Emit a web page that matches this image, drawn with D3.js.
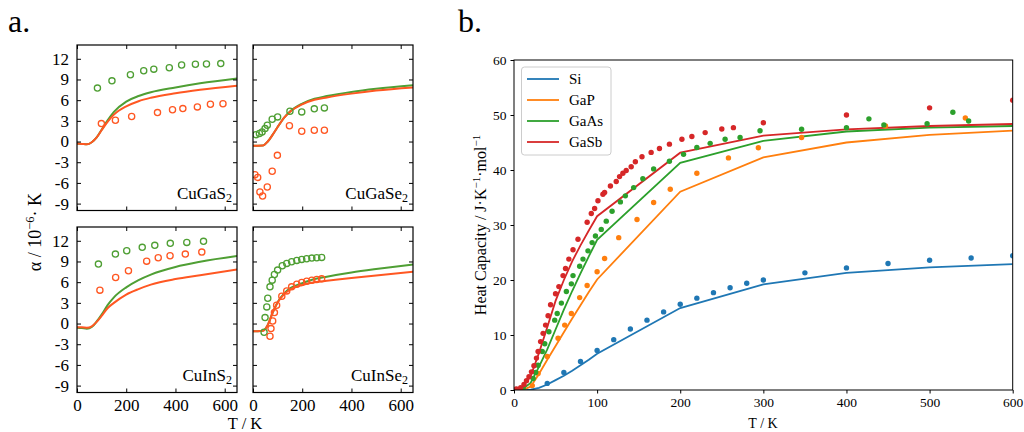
<!DOCTYPE html>
<html><head><meta charset="utf-8">
<script src="https://cdn.jsdelivr.net/npm/d3@7"></script>
<style>
body{margin:0;background:#fff}
svg{font-family:"Liberation Serif","DejaVu Serif",serif}
</style>
</head><body>
<svg id="chart" width="1024" height="432"></svg>
<script>
// ---------- Panel a data ----------
const aCompounds = ["CuGaS", "CuGaSe", "CuInS", "CuInSe"];
const aYTicks = [-9, -6, -3, 0, 3, 6, 9, 12];
const aXTicks = [0, 200, 400, 600];
const aLineT = [0, 20, 40, 60, 80, 100, 125, 150, 200, 250, 300, 400, 500, 650];

const cuGaS2LineGreen  = [-0.3,-0.35,-0.4,-0.1,0.6,1.7,3.1,4.3,5.8,6.6,7.15,7.85,8.45,9.15];
const cuGaS2LineOrange = [-0.3,-0.35,-0.4,-0.1,0.6,1.65,2.9,3.9,5.1,5.85,6.35,7.0,7.5,8.1];
const cuGaSe2LineGreen  = [-0.6,-0.6,-0.58,0.0,1.0,2.1,3.4,4.35,5.5,6.2,6.6,7.2,7.65,8.15];
const cuGaSe2LineOrange = [-0.6,-0.6,-0.58,0.0,1.0,2.1,3.4,4.3,5.4,6.05,6.4,6.95,7.4,7.85];
const cuInS2LineGreen  = [-0.6,-0.65,-0.75,-0.5,0.3,1.3,2.7,3.8,5.25,6.3,7.1,8.2,8.95,9.78];
const cuInS2LineOrange = [-0.55,-0.55,-0.6,-0.4,0.25,1.1,2.25,3.0,4.2,5.0,5.65,6.45,7.0,7.84];
const cuInSe2LineGreen  = [-1.1,-1.1,-1.05,-0.2,1.6,3.1,4.3,5.1,5.85,6.45,6.8,7.4,7.9,8.57];
const cuInSe2LineOrange = [-1.1,-1.1,-1.05,-0.2,1.6,3.05,4.2,4.9,5.6,6.0,6.2,6.6,6.95,7.5];

const cuGaS2GreenT = [83,142,217,271,312,375,425,481,526,584];
const cuGaS2GreenV = [7.75,8.8,9.68,10.26,10.5,10.7,11.1,11.2,11.24,11.3];
const cuGaS2OrangeT = [99,156,222,327,388,430,489,542,593];
const cuGaS2OrangeV = [2.6,3.09,3.63,4.2,4.6,4.78,5.02,5.4,5.47];
const cuGaSe2GreenT = [12,26,37,49,58,78,100,150,198,249,290];
const cuGaSe2GreenV = [1.0,1.16,1.39,1.88,2.36,3.24,3.57,4.4,4.3,4.74,4.88];
const cuGaSe2OrangeT = [8,19,28,39,58,78,99,148,198,249,290];
const cuGaSe2OrangeV = [-4.8,-5.2,-7.3,-7.9,-6.6,-4.3,-2.0,2.3,1.5,1.64,1.64];
const cuInS2GreenT = [87,156,202,265,316,379,446,514];
const cuInS2GreenV = [8.62,10.07,10.55,11.05,11.34,11.63,11.77,11.92];
const cuInS2OrangeT = [93,157,209,283,330,378,440,507];
const cuInS2OrangeV = [4.84,6.68,7.65,9.05,9.54,9.83,10.07,10.36];
const cuInSe2GreenT = [45,49,56,60,69,78,87,100,119,137,157,178,198,218,239,259,279];
const cuInSe2GreenV = [-1.27,0.86,2.41,3.67,5.32,6.29,7.12,7.75,8.37,8.72,8.95,9.16,9.3,9.39,9.49,9.54,9.59];
const cuInSe2OrangeT = [69,73,80,87,96,117,137,157,178,198,218,239,259,279];
const cuInSe2OrangeV = [-1.85,-0.73,0.37,1.59,2.65,3.96,4.73,5.32,5.71,5.96,6.15,6.29,6.4,6.48];

// ---------- Panel b data ----------
const bSeries = ["Si", "GaP", "GaAs", "GaSb"];
const bXTicks = [0, 100, 200, 300, 400, 500, 600];
const bYTicks = [0, 10, 20, 30, 40, 50, 60];
const bLineT = [0,10,20,30,40,50,60,70,80,90,100,200,300,400,500,600];
const siLine   = [0,0,0.05,0.4,1.0,1.8,2.6,3.5,4.5,5.5,6.6,14.9,19.2,21.3,22.3,22.9];
const gapLine  = [0,0,0.6,2.9,5.5,8.0,10.5,13.0,15.4,17.8,20.1,36.05,42.3,45.0,46.4,47.15];
const gaasLine = [0,0.15,1.3,4.2,7.4,11.0,14.6,18.0,21.2,24.3,27.3,41.3,45.3,47.0,47.7,48.0];
const gasbLine = [0,0.5,2.5,6.7,11.4,16.2,20.0,23.4,26.3,29.0,31.6,43.15,46.25,47.4,48.0,48.36];

const siDotT = [40,60,80,100,120,140,160,180,200,220,240,260,280,300,350,400,450,500,550,600];
const siDotC = [1.2,3.2,5.2,7.2,9.15,11.1,12.7,14.2,15.6,16.7,17.7,18.6,19.4,20.0,21.3,22.2,23.0,23.6,24.0,24.4];
const gapDotT = [22,29,40,53,61,69,79,88,100,109,126,148,168,188,220,258,294,346,447,543];
const gapDotC = [0.8,3.0,6.1,9.4,11.8,13.9,16.8,19.0,21.5,23.9,27.7,31.0,34.1,36.5,39.4,42.2,44.05,45.9,48.0,49.45];
const gaasDotT = [11,23,26,29,34,37,42,49,52,57,63,69,71,79,83,89,94,98,105,111,118,128,134,144,155,168,187,204,220,236,254,272,296,346,400,427,445,497,528,547];
const gaasDotC = [0.24,2.1,3.2,4.5,7.0,8.4,10.6,12.7,13.9,15.8,17.9,19.3,20.8,22.5,23.8,25.3,26.8,28.0,29.2,30.7,32.5,34.2,35.3,36.8,38.4,40.2,41.6,42.85,44.1,44.85,45.6,45.9,47.15,47.4,47.7,49.3,48.2,48.4,50.5,48.9];
const gasbDotT = [3,8,12,15,18,21,24,27,29,32,35,38,41,44,50,54,59,62,66,71,77,88,93,97,101,107,109,116,123,127,131,135,141,146,154,165,175,187,202,214,230,250,264,300,400,500,600];
const gasbDotC = [0.2,0.4,1.0,1.7,2.4,3.3,4.4,5.8,7.0,8.8,10.3,11.8,13.5,15.5,17.5,18.8,20.8,22.1,23.8,25.5,27.4,30.5,32.1,33.0,34.4,35.6,35.9,37.1,37.9,38.8,39.4,39.9,40.6,41.5,42.4,43.2,43.9,44.7,45.6,46.1,46.8,47.45,47.7,48.6,50.0,51.3,52.7];

// ---------- drawing ----------
const svg = d3.select("#chart");
const aGreen = "#4f9f34", aOrange = "#ff5722";
const zip = (xs, ys) => xs.map((x, i) => [x, ys[i]]);

const panels = [
  {name: aCompounds[0], x0: 77, y0: 45, lg: cuGaS2LineGreen, lo: cuGaS2LineOrange, gT: cuGaS2GreenT, gV: cuGaS2GreenV, oT: cuGaS2OrangeT, oV: cuGaS2OrangeV, left: true, bottom: false},
  {name: aCompounds[1], x0: 253, y0: 45, lg: cuGaSe2LineGreen, lo: cuGaSe2LineOrange, gT: cuGaSe2GreenT, gV: cuGaSe2GreenV, oT: cuGaSe2OrangeT, oV: cuGaSe2OrangeV, left: false, bottom: false},
  {name: aCompounds[2], x0: 77, y0: 227, lg: cuInS2LineGreen, lo: cuInS2LineOrange, gT: cuInS2GreenT, gV: cuInS2GreenV, oT: cuInS2OrangeT, oV: cuInS2OrangeV, left: true, bottom: true},
  {name: aCompounds[3], x0: 253, y0: 227, lg: cuInSe2LineGreen, lo: cuInSe2LineOrange, gT: cuInSe2GreenT, gV: cuInSe2GreenV, oT: cuInSe2OrangeT, oV: cuInSe2OrangeV, left: false, bottom: true}
];
const pw = 160, ph = 165.5;

panels.forEach((p, i) => {
  const x = d3.scaleLinear().domain([0, 650]).range([p.x0, p.x0 + pw]);
  const y = d3.scaleLinear().domain([-10, 14]).range([p.y0 + ph, p.y0]);
  const g = svg.append("g");
  const cid = "clipA" + i;
  svg.append("clipPath").attr("id", cid).append("rect")
    .attr("x", p.x0).attr("y", p.y0).attr("width", pw).attr("height", ph);
  const line = d3.line().x(d => x(d[0])).y(d => y(d[1])).curve(d3.curveMonotoneX);
  const plot = g.append("g").attr("clip-path", `url(#${cid})`);
  plot.append("path").datum(zip(aLineT, p.lg)).attr("d", line)
    .attr("fill", "none").attr("stroke", aGreen).attr("stroke-width", 2);
  plot.append("path").datum(zip(aLineT, p.lo)).attr("d", line)
    .attr("fill", "none").attr("stroke", aOrange).attr("stroke-width", 2);
  plot.selectAll(".cg").data(zip(p.gT, p.gV)).join("circle")
    .attr("cx", d => x(d[0])).attr("cy", d => y(d[1])).attr("r", 3.1)
    .attr("fill", "none").attr("stroke", aGreen).attr("stroke-width", 1.3);
  plot.selectAll(".co").data(zip(p.oT, p.oV)).join("circle")
    .attr("cx", d => x(d[0])).attr("cy", d => y(d[1])).attr("r", 3.1)
    .attr("fill", "none").attr("stroke", aOrange).attr("stroke-width", 1.3);

  const fmt = d => String(d);
  const axL = g.append("g").attr("transform", `translate(${p.x0},0)`)
    .call(d3.axisLeft(y).tickValues(aYTicks).tickSize(-4).tickPadding(8).tickFormat(p.left ? fmt : () => ""));
  const axR = g.append("g").attr("transform", `translate(${p.x0 + pw},0)`)
    .call(d3.axisRight(y).tickValues(aYTicks).tickSize(-4).tickFormat(() => ""));
  const axB = g.append("g").attr("transform", `translate(0,${p.y0 + ph})`)
    .call(d3.axisBottom(x).tickValues(aXTicks).tickSize(-4).tickPadding(6).tickFormat(p.bottom ? fmt : () => ""));
  const axT = g.append("g").attr("transform", `translate(0,${p.y0})`)
    .call(d3.axisTop(x).tickValues(aXTicks).tickSize(-4).tickFormat(() => ""));
  [axL, axR, axB, axT].forEach(a => {
    a.select(".domain").remove();
    a.selectAll("line").attr("stroke", "#000").attr("stroke-width", 1);
    a.selectAll("text").attr("font-family", "Liberation Serif").attr("font-size", 17).attr("fill", "#000");
  });
  g.append("rect").attr("x", p.x0).attr("y", p.y0).attr("width", pw).attr("height", ph)
    .attr("fill", "none").attr("stroke", "#000").attr("stroke-width", 1.2);
  const t = g.append("text").attr("x", p.x0 + pw - 5).attr("y", p.y0 + ph - 12)
    .attr("text-anchor", "end").attr("font-size", 17);
  t.append("tspan").text(p.name);
  t.append("tspan").attr("font-size", 12).attr("dy", 3).text("2");
});

// panel a labels
svg.append("text").attr("x", 8).attr("y", 32).attr("font-size", 32).text("a.");
svg.append("text").attr("x", 245).attr("y", 429).attr("text-anchor", "middle").attr("font-size", 16.5).text("T / K");
{
  const t = svg.append("text").attr("transform", "translate(41,232) rotate(-90)")
    .attr("text-anchor", "middle").attr("font-size", 18);
  t.append("tspan").text("α  /  10");
  t.append("tspan").attr("font-size", 12.5).attr("dy", -7).text("−6");
  t.append("tspan").attr("dy", 7).text("· K");
}

// ---------- Panel b ----------
const bx = d3.scaleLinear().domain([0, 600]).range([514, 1012.7]);
const by = d3.scaleLinear().domain([0, 60]).range([390, 60]);
const bColors = ["#1f77b4", "#ff7f0e", "#2ca02c", "#d62728"];
const bLines = [siLine, gapLine, gaasLine, gasbLine];
const bDots = [[siDotT, siDotC], [gapDotT, gapDotC], [gaasDotT, gaasDotC], [gasbDotT, gasbDotC]];
svg.append("clipPath").attr("id", "clipB").append("rect")
  .attr("x", 514).attr("y", 60).attr("width", 498.7).attr("height", 330);
const gb = svg.append("g");
const plotB = gb.append("g").attr("clip-path", "url(#clipB)");
const lineB = d3.line().x(d => bx(d[0])).y(d => by(d[1]));
bLines.forEach((vals, i) => {
  plotB.append("path").datum(zip(bLineT, vals)).attr("d", lineB)
    .attr("fill", "none").attr("stroke", bColors[i]).attr("stroke-width", 1.8);
});
bDots.forEach(([ts, cs], i) => {
  plotB.append("g").selectAll("circle").data(zip(ts, cs)).join("circle")
    .attr("cx", d => bx(d[0])).attr("cy", d => by(d[1])).attr("r", 2.7)
    .attr("fill", bColors[i]);
});
const bAxB = gb.append("g").attr("transform", "translate(0,390)")
  .call(d3.axisBottom(bx).tickValues(bXTicks).tickSize(3.5).tickPadding(4));
const bAxL = gb.append("g").attr("transform", "translate(514,0)")
  .call(d3.axisLeft(by).tickValues(bYTicks).tickSize(3.5).tickPadding(4));
[bAxB, bAxL].forEach(a => {
  a.select(".domain").remove();
  a.selectAll("line").attr("stroke", "#000");
  a.selectAll("text").attr("font-family", "Liberation Serif").attr("font-size", 13.5).attr("fill", "#000");
});
gb.append("rect").attr("x", 514).attr("y", 60).attr("width", 498.7).attr("height", 330)
  .attr("fill", "none").attr("stroke", "#000").attr("stroke-width", 1);

// legend
const lg = gb.append("g");
lg.append("rect").attr("x", 521.5).attr("y", 67).attr("width", 89.5).attr("height", 88).attr("rx", 3)
  .attr("fill", "#fff").attr("fill-opacity", 0.8).attr("stroke", "#ccc").attr("stroke-width", 1);
bSeries.forEach((s, i) => {
  const yy = 79 + i * 21;
  lg.append("line").attr("x1", 527).attr("x2", 559).attr("y1", yy).attr("y2", yy)
    .attr("stroke", bColors[i]).attr("stroke-width", 1.8);
  lg.append("text").attr("x", 569).attr("y", yy + 5).attr("font-size", 15).text(s);
});

svg.append("text").attr("x", 458).attr("y", 32).attr("font-size", 32).text("b.");
svg.append("text").attr("x", 763).attr("y", 428).attr("text-anchor", "middle").attr("font-size", 14).text("T / K");
{
  const t = svg.append("text").attr("transform", "translate(486,225) rotate(-90)")
    .attr("text-anchor", "middle").attr("font-size", 16);
  t.append("tspan").text("Heat Capacity / J·K");
  t.append("tspan").attr("font-size", 11).attr("dy", -6).text("−1");
  t.append("tspan").attr("dy", 6).text("·mol");
  t.append("tspan").attr("font-size", 11).attr("dy", -6).text("−1");
}
</script>
</body></html>
